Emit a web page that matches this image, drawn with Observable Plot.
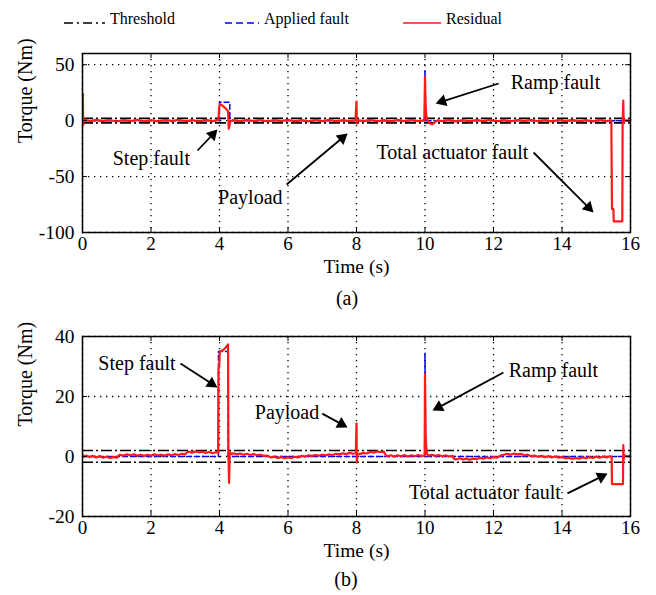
<!DOCTYPE html>
<html><head><meta charset="utf-8">
<script src="https://cdn.jsdelivr.net/npm/d3@7"></script>
<script src="https://cdn.jsdelivr.net/npm/@observablehq/plot@0.6"></script>
<style>
body{margin:0;background:#fff;font-family:"Liberation Serif","Times New Roman",serif;color:#000}
#root{position:relative;width:656px;height:595px;overflow:hidden;background:#fff}
.abs{position:absolute}
.leg{font-size:16px;line-height:20px;white-space:nowrap}
.cap{font-size:20px;line-height:22px;transform:translateX(-50%)}
</style></head><body><div id="root"></div>
<script>
// ---------- data ----------
const xTicks = [0, 2, 4, 6, 8, 10, 12, 14, 16];
const yTicksA = [-100, -50, 0, 50];
const yTicksB = [-20, 0, 20, 40];
const thresholdA = [2, -2];
const thresholdB = [2, -1.9];

const faultA = [[0,0],[4.0,0],[4.0,16.5],[4.3,16.5],[4.3,0],[9.99,0],[10.0,45],[10.02,0],[16,0]];
const residualA = [
[0,0.5],[0.01,24],[0.02,-4],[0.04,1.2],[0.2,-0.6],[0.4,0.7],[0.6,-0.5],[0.8,0.6],[1.0,-0.8],[1.2,0.5],[1.4,-0.4],[1.6,0.8],[1.8,-0.6],[2.0,0.4],[2.2,-0.7],[2.4,0.6],[2.6,-0.3],[2.8,0.8],[3.0,-0.6],[3.2,0.5],[3.4,-0.8],[3.6,0.7],[3.8,-0.4],[3.97,0.6],
[3.99,12],[4.02,14.5],[4.07,13.8],[4.12,12.5],[4.17,11.2],[4.21,9.8],[4.25,8.2],[4.27,-7.3],[4.29,-5],[4.31,-0.8],[4.4,0.5],[4.6,-0.6],[4.8,0.7],[5.0,-0.5],[5.2,0.6],[5.4,-0.7],[5.6,0.5],[5.8,-0.4],[6.0,0.8],[6.2,-0.6],[6.4,0.4],[6.6,-0.7],[6.8,0.6],[7.0,-0.5],[7.2,0.7],[7.4,-0.6],[7.6,0.5],[7.8,-0.4],[7.97,0.5],
[8.0,17],[8.01,-2.5],[8.03,0.6],[8.2,-0.5],[8.4,0.7],[8.6,-0.6],[8.8,0.5],[9.0,-0.7],[9.2,0.6],[9.4,-0.4],[9.6,0.7],[9.8,-0.5],[9.98,0.4],
[10.0,39],[10.02,12],[10.04,4],[10.07,0.5],[10.1,-1],[10.15,-2.6],[10.2,-3.2],[10.25,-2.5],[10.3,-1],[10.36,0.3],[10.5,-0.5],[10.7,0.6],[10.9,-0.6],[11.1,0.5],[11.3,-0.7],[11.5,0.6],[11.7,-0.4],[11.9,0.8],[12.1,-0.6],[12.3,0.5],[12.5,-0.7],[12.7,0.6],[12.9,-0.5],[13.1,0.7],[13.3,-0.6],[13.5,0.4],[13.7,-0.7],[13.9,0.6],[14.1,-0.5],[14.3,0.7],[14.5,-0.6],[14.7,0.5],[14.9,-0.7],[15.1,0.6],[15.3,-0.4],[15.44,0.2],
[15.46,-79],[15.5,-79],[15.51,-90],[15.76,-90],[15.77,-3],[15.79,18],[15.8,-2],[15.82,0.5],[16,0]
];

const faultB = [[0,0],[3.97,0],[3.97,35],[4.25,35],[4.25,0],[9.99,0],[10.0,34.5],[10.02,0],[16,0]];
const residualB = [
[0,0.6],[0.05,-0.1],[0.1,0.3],[0.2,-0.2],[0.3,0.2],[0.4,-0.3],[0.5,0.1],[0.6,-0.4],[0.7,-0.1],[0.8,-0.5],[0.9,-0.2],[1.0,-0.4],[1.05,0.3],[1.1,0.6],[1.2,0.3],[1.3,0.7],[1.4,0.4],[1.5,0.7],[1.6,0.3],[1.7,0.6],[1.8,0.2],[1.9,0.6],[2.0,0.3],[2.1,0.7],[2.2,0.4],[2.3,0.6],[2.4,0.3],[2.5,0.7],[2.6,0.4],[2.7,0.8],[2.8,0.5],[2.9,0.9],[3.0,0.7],[3.05,1.4],[3.1,1.6],[3.2,1.3],[3.3,1.7],[3.4,1.4],[3.5,1.6],[3.6,1.2],[3.7,1.5],[3.8,1.1],[3.9,1.4],[3.96,1.2],
[3.97,29],[3.99,30],[4.01,35],[4.08,35.3],[4.14,35.8],[4.2,36.6],[4.25,37.4],[4.26,1],[4.28,-8.8],[4.3,1.4],[4.35,0.8],[4.4,1.1],[4.5,0.7],[4.6,1.0],[4.7,0.6],[4.8,0.9],[4.9,0.5],[5.0,0.8],[5.1,0.4],[5.2,0.6],[5.3,0.2],[5.4,0.3],[5.5,-0.3],[5.6,-0.1],[5.7,-0.5],[5.8,-0.2],[5.9,-0.6],[6.0,-0.3],[6.1,-0.5],[6.2,-0.1],[6.3,-0.3],[6.4,0.2],[6.5,0.0],[6.6,0.4],[6.7,0.2],[6.8,0.5],[6.9,0.3],[7.0,0.6],[7.1,0.4],[7.2,0.7],[7.3,0.5],[7.4,0.9],[7.5,0.7],[7.6,1.1],[7.7,0.8],[7.8,1.2],[7.9,0.9],[7.98,1.1],
[8.0,11],[8.01,-2],[8.03,1.0],[8.1,0.8],[8.2,1.2],[8.3,1.0],[8.4,1.5],[8.5,1.3],[8.6,1.7],[8.7,1.5],[8.8,1.6],[8.85,0.5],[8.9,0.1],[9.0,0.4],[9.1,0.0],[9.2,0.4],[9.3,0.1],[9.4,0.5],[9.5,0.0],[9.6,0.4],[9.7,0.1],[9.8,0.5],[9.9,0.2],[9.99,0.3],
[10.0,27.5],[10.02,6.5],[10.04,2.5],[10.06,0.8],[10.1,0.3],[10.2,0.6],[10.3,0.2],[10.4,0.5],[10.5,0.1],[10.6,0.4],[10.7,0.0],[10.8,0.2],[10.85,-0.8],[10.9,-1.0],[11.0,-0.6],[11.1,-1.0],[11.2,-0.7],[11.3,-1.1],[11.4,-0.7],[11.5,-0.9],[11.6,-0.4],[11.7,-0.7],[11.8,-0.3],[11.9,-0.6],[12.0,-0.2],[12.1,-0.4],[12.2,0.3],[12.3,0.6],[12.4,0.9],[12.5,0.6],[12.6,1.0],[12.7,0.7],[12.8,0.9],[12.9,0.4],[13.0,0.6],[13.1,0.1],[13.2,0.3],[13.3,-0.1],[13.4,0.2],[13.5,-0.2],[13.6,0.1],[13.7,-0.3],[13.8,0.0],[13.9,-0.4],[14.0,-0.2],[14.1,-0.6],[14.2,-0.4],[14.3,-0.8],[14.4,-0.5],[14.5,-0.7],[14.6,-0.3],[14.7,-0.6],[14.8,-0.2],[14.9,-0.5],[15.0,-0.1],[15.1,-0.4],[15.2,0.0],[15.3,-0.3],[15.4,0.1],[15.45,-0.2],
[15.46,-9.2],[15.78,-9.2],[15.79,3.8],[15.8,-1],[15.82,0.4],[15.9,0.0],[16,0.3]
];

const notesA = [
  {text:"Step fault", x:2.01, y:-33.9},
  {text:"Payload", x:4.90, y:-68.7},
  {text:"Ramp fault", x:13.81, y:34.1},
  {text:"Total actuator fault", x:10.80, y:-28.5}
];
const arrowsA = [
  {x1:3.36, y1:-26.7, x2:3.94, y2:-7.9},
  {x1:5.96, y1:-57.1, x2:7.74, y2:-11.5},
  {x1:12.15, y1:33.2, x2:10.31, y2:15.3},
  {x1:13.17, y1:-28.5, x2:14.92, y2:-82.1}
];
const notesB = [
  {text:"Step fault", x:1.59, y:31},
  {text:"Payload", x:5.97, y:14.7},
  {text:"Ramp fault", x:13.75, y:28.7},
  {text:"Total actuator fault", x:11.75, y:-12}
];
const arrowsB = [
  {x1:2.86, y1:31, x2:3.94, y2:23},
  {x1:7.0, y1:14.3, x2:7.74, y2:9.7},
  {x1:12.29, y1:28, x2:10.22, y2:15.3},
  {x1:14.16, y1:-12.3, x2:15.33, y2:-5.7}
];

// ---------- layout ----------
const root = document.getElementById("root");
const W = 656, ML = 82, MR = 26, SVGH = 258;
const FONT = '"Liberation Serif","Times New Roman",serif';

function placed(el, left, top) {
  const d = document.createElement("div");
  d.className = "abs"; d.style.left = left + "px"; d.style.top = top + "px";
  d.appendChild(el); root.appendChild(d); return d;
}

function panel({top, mT, yDomain, yTicks, thr, fault, resid, notes, arrows}) {
  const plotTop = top + mT, plotBottom = top + SVGH - 56;
  const ih = plotBottom - plotTop, iw = W - ML - MR;
  const xs = d3.scaleLinear([0, 16], [ML, W - MR]);
  const ys = d3.scaleLinear(yDomain, [SVGH - 56, mT]);
  const heads = arrows.map(a => {
    const px1 = xs(a.x1), py1 = ys(a.y1), px2 = xs(a.x2), py2 = ys(a.y2);
    const L = Math.hypot(px2 - px1, py2 - py1), ux = (px2 - px1) / L, uy = (py2 - py1) / L;
    return {
      x1: a.x1, y1: a.y1,
      lx: xs.invert(px2 - ux * 9), ly: ys.invert(py2 - uy * 9),
      hx: xs.invert(px2 - ux * 7), hy: ys.invert(py2 - uy * 7),
      rot: Math.atan2(ux, -uy) * 180 / Math.PI
    };
  });
  const p = Plot.plot({
    width: W, height: SVGH, marginLeft: ML, marginRight: MR, marginTop: mT, marginBottom: 56,
    style: {fontFamily: FONT, fontSize: "20px", background: "transparent", color: "#000", overflow: "visible"},
    x: {domain: [0, 16]},
    y: {domain: yDomain},
    marks: [
      Plot.gridX(xTicks, {stroke: "#000", strokeOpacity: 1, strokeWidth: 1.3, strokeDasharray: "1.3,4.7"}),
      Plot.gridY(yTicks, {stroke: "#000", strokeOpacity: 1, strokeWidth: 1.3, strokeDasharray: "1.3,4.7"}),
      Plot.ruleY(thr, {stroke: "#000", strokeWidth: 1.6, strokeDasharray: "11,3,2,3"}),
      Plot.line(fault, {x: d => d[0], y: d => d[1], stroke: "#0000ff", strokeWidth: 1.5, strokeDasharray: "5,3", clip: true}),
      Plot.line(resid, {x: d => d[0], y: d => d[1], stroke: "#ff1a1a", strokeWidth: 2.2, clip: true}),
      Plot.ruleX(xTicks, {stroke: "#000", strokeWidth: 1, insetBottom: ih - 5}),
      Plot.ruleX(xTicks, {stroke: "#000", strokeWidth: 1, insetTop: ih - 5}),
      Plot.ruleY(yTicks, {stroke: "#000", strokeWidth: 1, insetRight: iw - 5}),
      Plot.ruleY(yTicks, {stroke: "#000", strokeWidth: 1, insetLeft: iw - 5}),
      Plot.frame({stroke: "#000", strokeWidth: 1.5}),
      Plot.axisX(xTicks, {tickSize: 0, tickPadding: 4, fontSize: 19, label: null, tickFormat: d => String(d)}),
      Plot.axisY(yTicks, {tickSize: 0, tickPadding: 8, fontSize: 19.5, label: null, tickFormat: d => String(d)}),
      Plot.text(["Time (s)"], {frameAnchor: "bottom", dy: 40, fontSize: 19.5, fill: "#000"}),
      Plot.text(["Torque (Nm)"], {frameAnchor: "left", dx: -57, rotate: -90, fontSize: 20, fill: "#000"}),
      Plot.text(notes, {x: "x", y: "y", text: "text", fontSize: 20, fill: "#000", textAnchor: "middle"}),
      Plot.link(heads, {x1: "x1", y1: "y1", x2: "lx", y2: "ly", stroke: "#000", strokeWidth: 1.8}),
      Plot.dot(heads, {x: "hx", y: "hy", symbol: "triangle", r: 4.5, fill: "#000", stroke: "none", rotate: "rot"})
    ]
  });
  placed(p, 0, top);
}

panel({top: 30, mT: 23, yDomain: [-100, 60], yTicks: yTicksA, thr: thresholdA, fault: faultA, resid: residualA, notes: notesA, arrows: arrowsA});
panel({top: 314, mT: 22, yDomain: [-20, 40], yTicks: yTicksB, thr: thresholdB, fault: faultB, resid: residualB, notes: notesB, arrows: arrowsB});

// captions
const capA = document.createElement("div"); capA.className = "cap"; capA.textContent = "(a)";
placed(capA, 347, 287);
const capB = document.createElement("div"); capB.className = "cap"; capB.textContent = "(b)";
placed(capB, 346, 568);

// legend
const legendItems = [
  {label: "Threshold", left: 64, color: "#000", dash: "9,4,2,4", width: 1.5, textLeft: 110},
  {label: "Applied fault", left: 225, color: "#0000ff", dash: "7,4", width: 1.5, textLeft: 264},
  {label: "Residual", left: 403, color: "#ff1a1a", dash: null, width: 1.6, textLeft: 446}
];
for (const it of legendItems) {
  const ns = "http://www.w3.org/2000/svg";
  const s = document.createElementNS(ns, "svg");
  const len = it.textLeft - it.left - 5;
  s.setAttribute("width", len); s.setAttribute("height", 10);
  const l = document.createElementNS(ns, "line");
  l.setAttribute("x1", 0); l.setAttribute("x2", len); l.setAttribute("y1", 5); l.setAttribute("y2", 5);
  l.setAttribute("stroke", it.color); l.setAttribute("stroke-width", it.width);
  if (it.dash) l.setAttribute("stroke-dasharray", it.dash);
  s.appendChild(l);
  placed(s, it.left, 14);
  const t = document.createElement("div"); t.className = "leg"; t.textContent = it.label;
  placed(t, it.textLeft, 9);
}
</script></body></html>
